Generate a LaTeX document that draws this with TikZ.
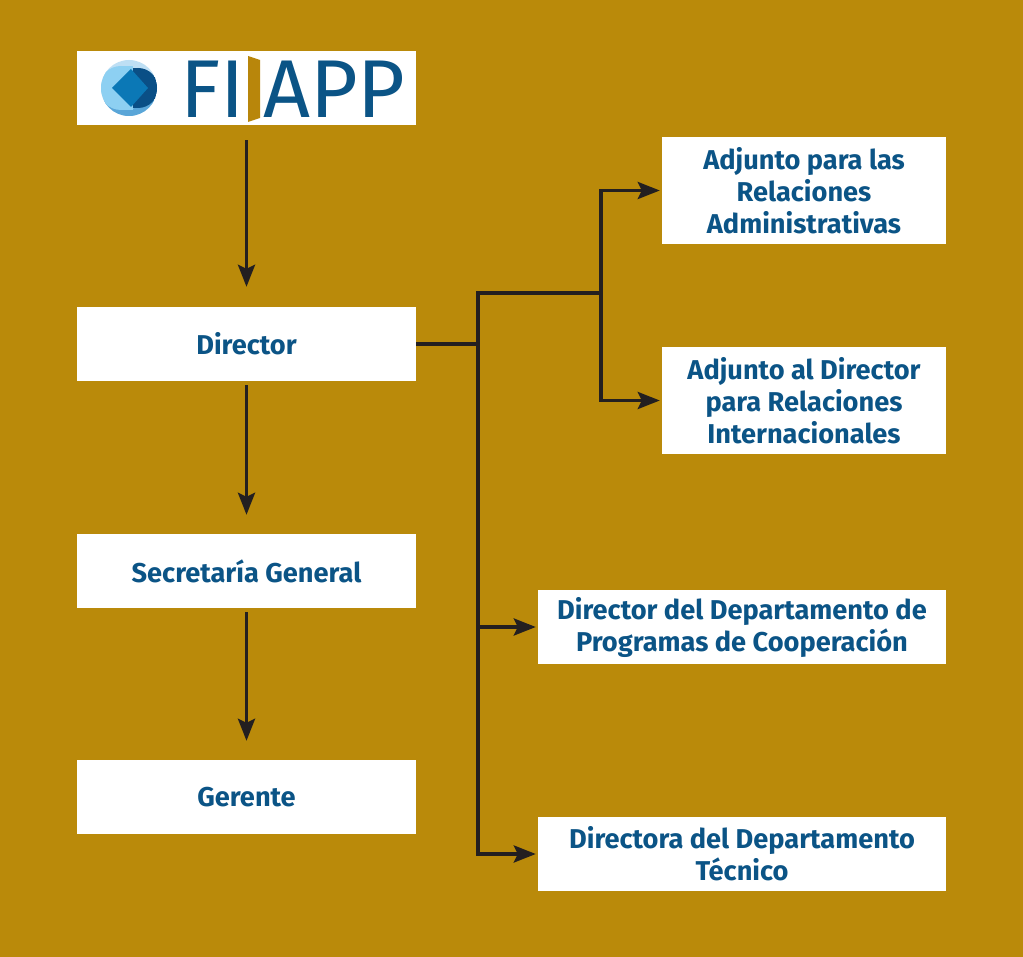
\documentclass[tikz,border=0pt]{standalone}
\usepackage{fontspec}
\setmainfont{Fira Sans}
\usetikzlibrary{arrows.meta}
\definecolor{fondo}{HTML}{BA8A0A}
\definecolor{azul}{HTML}{0B5486}
\definecolor{linea}{HTML}{231F20}
\definecolor{oro}{HTML}{B8860B}
\definecolor{palido}{HTML}{BEDFF4}
\definecolor{celeste}{HTML}{8DD0F2}
\definecolor{medio}{HTML}{5AA6D8}
\definecolor{diamante}{HTML}{0B78B6}
\definecolor{oscuro}{HTML}{0A4F86}

\begin{document}
\begin{tikzpicture}[x=1pt,y=-1pt,
	caja/.style={fill=white,inner sep=0pt,align=center,text=azul,
		font=\bfseries\fontsize{27.2}{32}\selectfont},
	ancha/.style={caja,minimum width=339pt,minimum height=74pt},
	alta/.style={caja,minimum width=284pt,minimum height=107pt},
	larga/.style={caja,minimum width=408pt,minimum height=74pt},
	sigla/.style={anchor=base west,text=azul,inner sep=0pt,font=\fontsize{82}{82}\selectfont},
	trazo/.style={line width=3.6pt,draw=linea},
	flecha/.style={trazo,-{Stealth[length=22pt,width=17pt,inset=4pt]},shorten >=2pt}]
				\fill[fondo] (0,0) rectangle (1023,957);
				\useasboundingbox (0,0) rectangle (1023,957);
				% columna izquierda
				\node[ancha] (logo) at (246.5,88) {};
				\node[ancha] (director) at (246.5,344) {Director};
				\node[ancha] (secretaria) at (246.5,571) {Secretaría General};
				\node[ancha] (gerente) at (246.5,797) {Gerente};
				% columna derecha
				\node[alta] (adjadm) at (804,190.5) {Adjunto para las\\Relaciones\\Administrativas};
				\node[alta] (adjint) at (804,400.5) {Adjunto al Director\\para Relaciones\\Internacionales};
				\node[larga] (dirprog) at (742,627) {Director del Departamento de\\Programas de Cooperación};
				\node[larga] (dirtec) at (742,854) {Directora del Departamento\\Técnico};
				% logo
				\fill[palido] (129,88) circle (28);
				\begin{scope}
					\clip (129,88) circle (28);
					\fill[medio] (100,100) -- (125,100) -- (133,109) -- (141,100) -- (160,100) -- (160,120) -- (100,120) -- cycle;
					\begin{scope}
						\clip (90,60) rectangle (133,120);
						\fill[celeste] (121,88) circle (22);
					\end{scope}
					\fill[celeste] (121,66) rectangle (133,110);
					\begin{scope}
						\clip (133,60) rectangle (170,120);
						\fill[oscuro] (138,88) circle (20);
					\end{scope}
					\fill[oscuro] (133,68) rectangle (138,108);
					\fill[diamante] (112,88) -- (131,69) -- (148,88) -- (131,107) -- cycle;
				\end{scope}
				\node[sigla] (siglauno) at (180,118) {FI};
				\fill[oro] (248,56) -- (260,60) -- (260,118) -- (248,122) -- cycle;
				\node[sigla] (siglados) at (263,118) {APP};
				% conectores verticales
				\draw[flecha] ([yshift=-15pt]logo.south) -- ([yshift=18pt]director.north);
				\draw[flecha] ([yshift=-4pt]director.south) -- ([yshift=17pt]secretaria.north);
				\draw[flecha] ([yshift=-4pt]secretaria.south) -- ([yshift=17pt]gerente.north);
				% ramas hacia la derecha
				\coordinate (nudo) at (478,293);
				\coordinate (rama) at (601,293);
				\draw[trazo] (director.east) -- (director.east -| nudo);
				\draw[trazo] (rama) -- (nudo) -- (nudo |- dirprog.west);
				\draw[flecha] (nudo |- dirprog.west) -- (nudo |- dirtec.west) -- (dirtec.west);
				\draw[flecha] (nudo |- dirprog.west) -- (dirprog.west);
				\draw[flecha] (rama) -- (rama |- adjadm.west) -- (adjadm.west);
				\draw[flecha] (rama) -- (rama |- adjint.west) -- (adjint.west);
			\end{tikzpicture}
\end{document}
